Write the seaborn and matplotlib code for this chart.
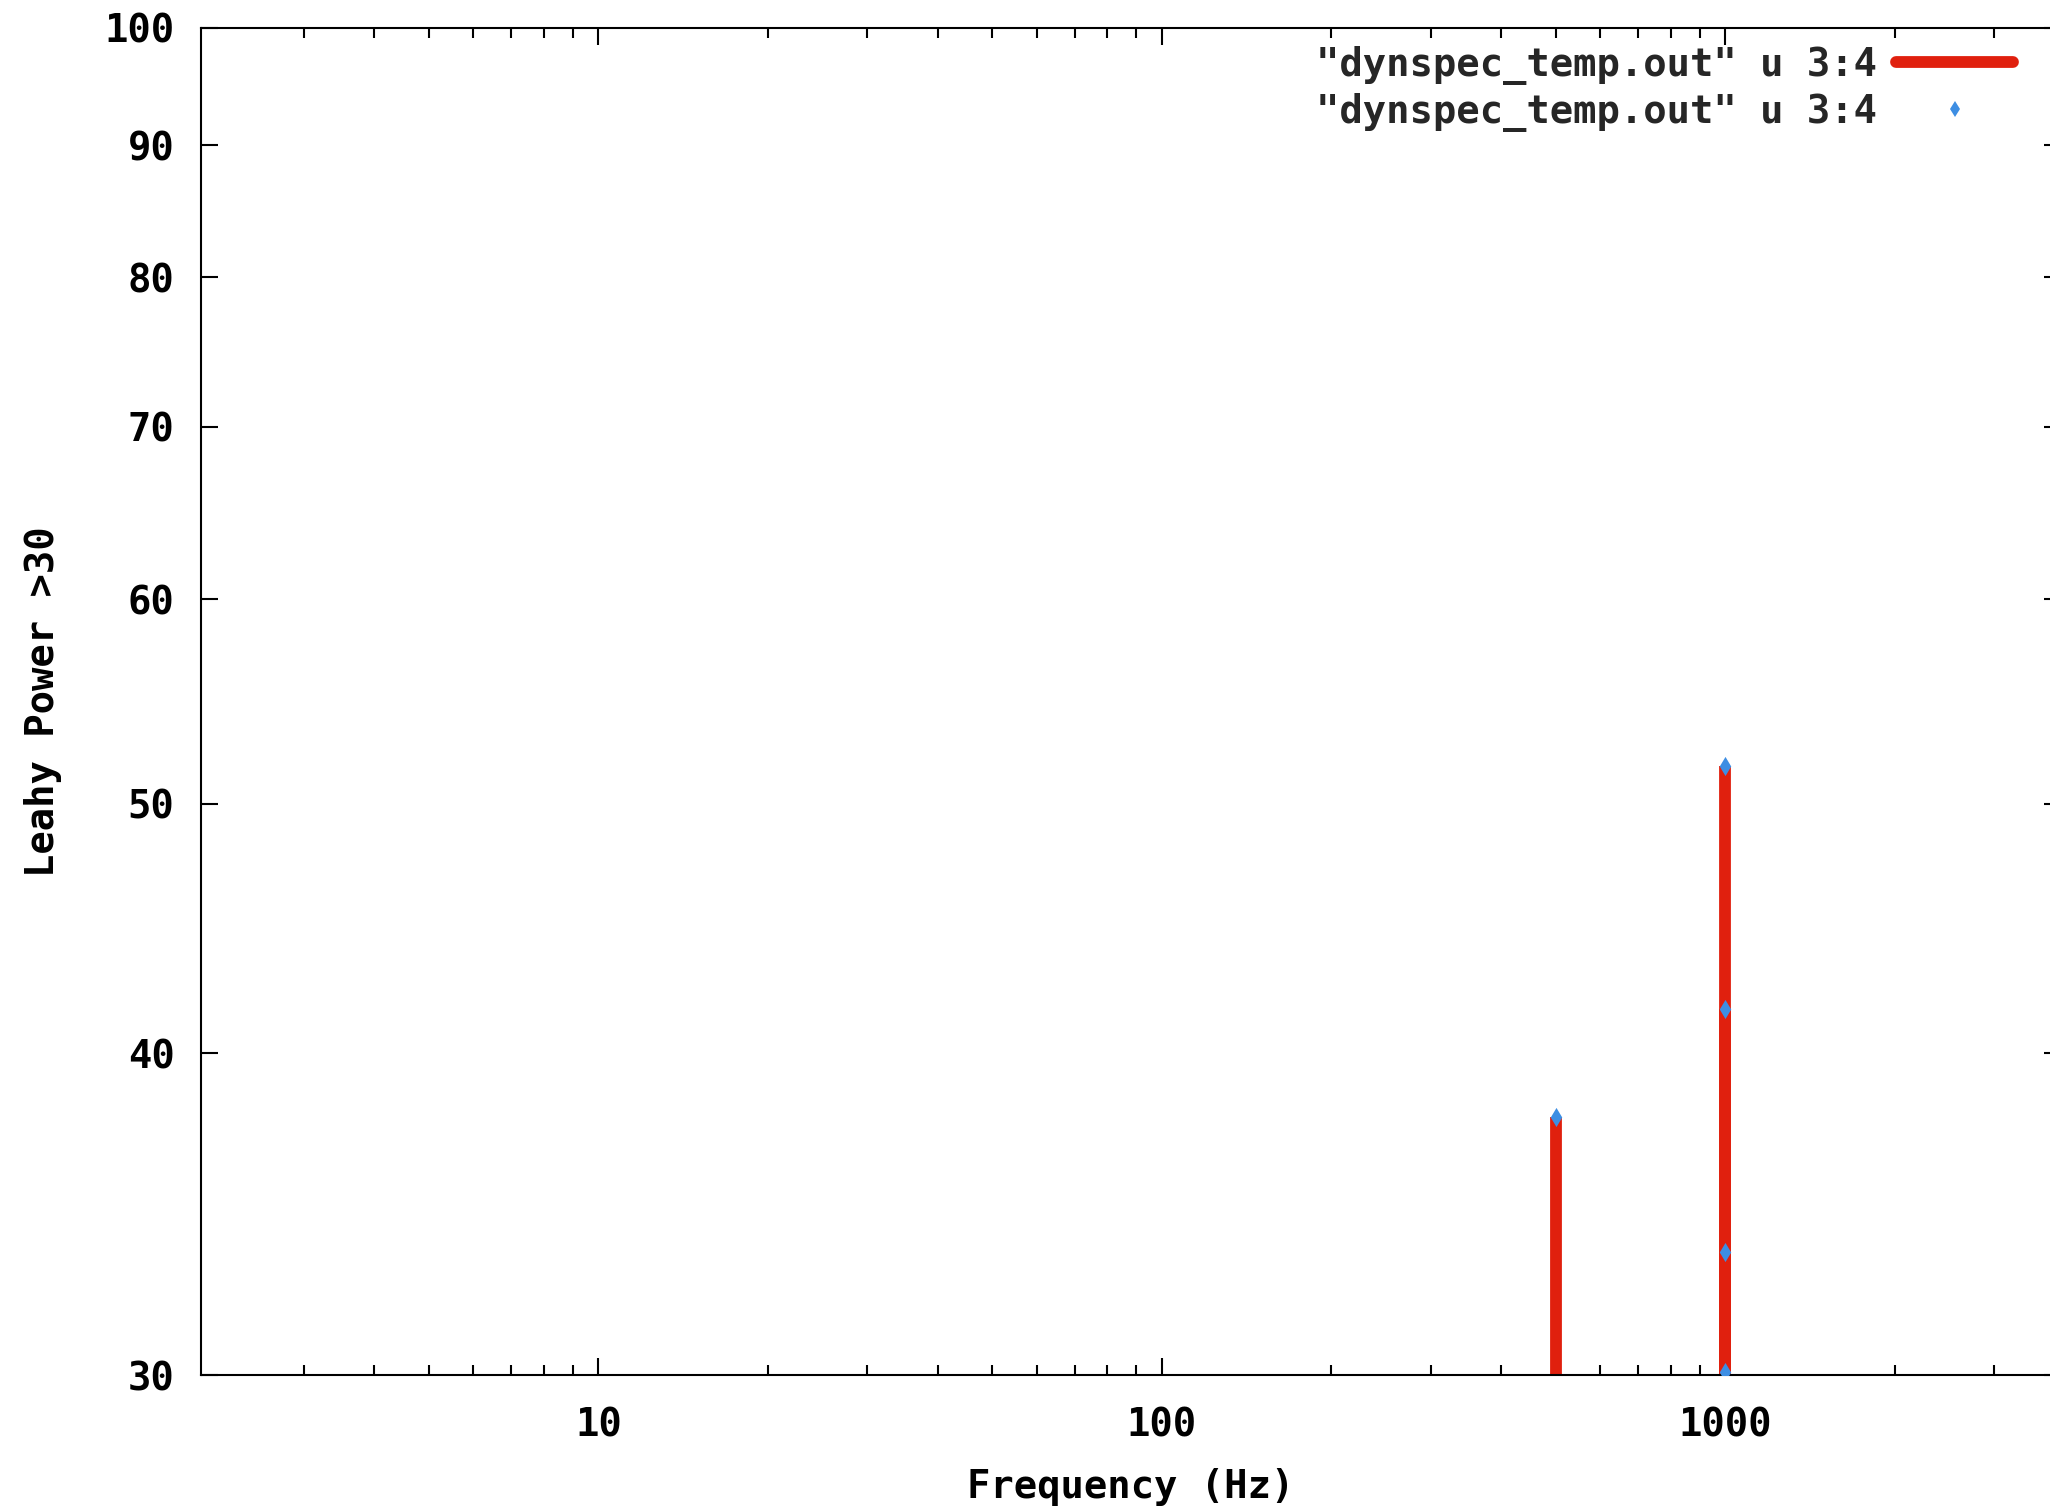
import matplotlib
matplotlib.use("Agg")
import matplotlib.pyplot as plt
from matplotlib.lines import Line2D
from matplotlib.ticker import FixedLocator, NullLocator, NullFormatter, FixedFormatter
import seaborn as sns
import pandas as pd

# Peaks from dynspec_temp.out (column 3 = frequency, column 4 = Leahy power)
freq_hz = [500, 1000, 1000, 1000, 1000]
leahy_power = [37.8, 51.7, 41.6, 33.5, 30.1]

y_ticks = [30, 40, 50, 60, 70, 80, 90, 100]
x_ticks = [10, 100, 1000]
x_range = (1.97, 3940)
y_range = (30, 100)

legend_label = '"dynspec_temp.out" u 3:4'

RED = "#e0200e"
BLUE = "#3d8ee3"

sns.set_theme(style="ticks")
plt.rcParams["font.family"] = ["DejaVu Sans Mono", "DejaVu Sans"]
plt.rcParams["font.weight"] = "bold"
plt.rcParams["axes.labelweight"] = "bold"

df = pd.DataFrame({"freq": freq_hz, "power": leahy_power})

fig = plt.figure(figsize=(20.5, 15.09), dpi=100)
ax = fig.add_axes([0.0980, 0.08847, 0.9073, 0.8933])

ax.set_xscale("log")
ax.set_yscale("log")
ax.set_xlim(*x_range)
ax.set_ylim(*y_range)

# impulses rise from the bottom of the power axis
ax.vlines(df["freq"], y_range[0], df["power"], colors=RED, linewidth=8.5, zorder=2)
sns.scatterplot(data=df, x="freq", y="power", ax=ax, marker="d", s=95,
                color=BLUE, edgecolor=BLUE, linewidth=0, zorder=3, legend=False)

fs = 28
# minor ticks at 2..9 of each decade, skipping the one on the left border
minor_x = [m * 10 ** d for d in range(0, 4) for m in range(2, 10)]
minor_x = [v for v in minor_x if 2 < v < x_range[1]]

ax.xaxis.set_major_locator(FixedLocator(x_ticks))
ax.xaxis.set_major_formatter(FixedFormatter([str(v) for v in x_ticks]))
ax.xaxis.set_minor_locator(FixedLocator(minor_x))
ax.xaxis.set_minor_formatter(NullFormatter())
ax.yaxis.set_major_locator(FixedLocator(y_ticks))
ax.yaxis.set_major_formatter(FixedFormatter([str(v) for v in y_ticks]))
ax.yaxis.set_minor_locator(NullLocator())

ax.tick_params(axis="both", which="major", direction="in", length=12, width=1.5,
               color="black", labelsize=fs, labelcolor="black",
               top=True, right=True)
ax.tick_params(axis="x", which="minor", direction="in", length=7, width=1.5,
               color="black", top=True, bottom=True)
ax.tick_params(axis="x", which="major", pad=22)
ax.tick_params(axis="y", which="major", pad=19)
for lab in ax.get_xticklabels() + ax.get_yticklabels():
    lab.set_fontweight("bold")

for sp in ax.spines.values():
    sp.set_linewidth(1.5)
    sp.set_color("black")

ax.set_xlabel("Frequency (Hz)", fontsize=fs, fontweight="bold", color="black")
ax.set_ylabel("Leahy Power >30", fontsize=fs, fontweight="bold", color="black")
ax.xaxis.set_label_coords(0.5, -0.0830)
ax.xaxis.label.set_va("center")
ax.yaxis.set_label_coords(-0.085, 0.5)
ax.yaxis.label.set_va("center")

handles = [
    Line2D([0], [0], color=RED, linewidth=8.5),
    Line2D([0], [0], color=BLUE, linestyle="none", marker="d", markersize=8,
           markeredgewidth=0),
]
fig.legend(handles, [legend_label, legend_label], loc="upper right",
           bbox_to_anchor=(2013 / 2050, 1 - 46 / 1509),
           bbox_transform=fig.transFigure, frameon=False, markerfirst=False,
           prop={"weight": "bold", "size": fs},
           handlelength=3.0, handletextpad=0.5, labelspacing=0.2,
           borderpad=0, borderaxespad=0)

fig.savefig("out.png", dpi=100, facecolor="white")
